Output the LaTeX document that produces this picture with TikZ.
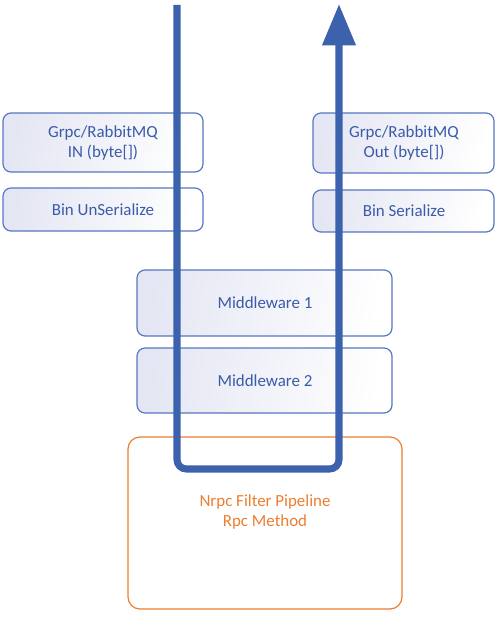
\documentclass[tikz,border=0pt]{standalone}
\usepackage{fontspec}
\setmainfont{Carlito}
\usetikzlibrary{arrows.meta}
\definecolor{flow}{HTML}{3C62AD}
\definecolor{txtblue}{HTML}{3A5BA8}
\definecolor{bord}{HTML}{5677C2}
\definecolor{lav}{HTML}{E4E6F3}
\definecolor{orng}{HTML}{ED7D31}
\tikzset{
  layer/.style={draw=bord, line width=0.9pt, rounded corners=6pt, left color=lav, right color=white, shading angle=80},
  lbl/.style={text=txtblue, align=center, font=\fontsize{12.7}{15}\selectfont},
  pipe/.style={draw=orng, line width=0.9pt, rounded corners=9pt},
  flowline/.style={draw=flow, line width=5.3pt, rounded corners=7pt, -{Triangle[width=24pt,length=31pt]}}
}
\begin{document}
\begin{tikzpicture}[x=0.75pt,y=-0.75pt]
\useasboundingbox (0,0) rectangle (500,617);
% boxes
\draw[layer] (3,113) rectangle (203,172);
\draw[layer] (3,188) rectangle (203,231);
\draw[layer] (313,113) rectangle (494,173);
\draw[layer] (313,190) rectangle (494,232);
\draw[layer] (137,270) rectangle (392,336);
\draw[layer] (137,348) rectangle (392,413);
\draw[pipe] (128,437) rectangle (402,609);
% labels
\node[lbl] (inN) at (103,143) {Grpc/RabbitMQ\\IN (byte[])};
\node[lbl] (unser) at (103,210) {Bin UnSerialize};
\node[lbl] (outN) at (404,143) {Grpc/RabbitMQ\\Out (byte[])};
\node[lbl] (ser) at (404,211) {Bin Serialize};
\node[lbl] (mw1) at (265,303) {Middleware 1};
\node[lbl] (mw2) at (265,381) {Middleware 2};
\node[lbl, text=orng] (pipeN) at (265,512) {Nrpc Filter Pipeline\\Rpc Method};
% flow
\coordinate (top) at (177,5);
\coordinate (bl) at (177,469);
\coordinate (br) at (339,469);
\coordinate (tip) at (339,4);
\draw[flowline] (top) -- (bl) -- (br) -- (tip);
\end{tikzpicture}
\end{document}
